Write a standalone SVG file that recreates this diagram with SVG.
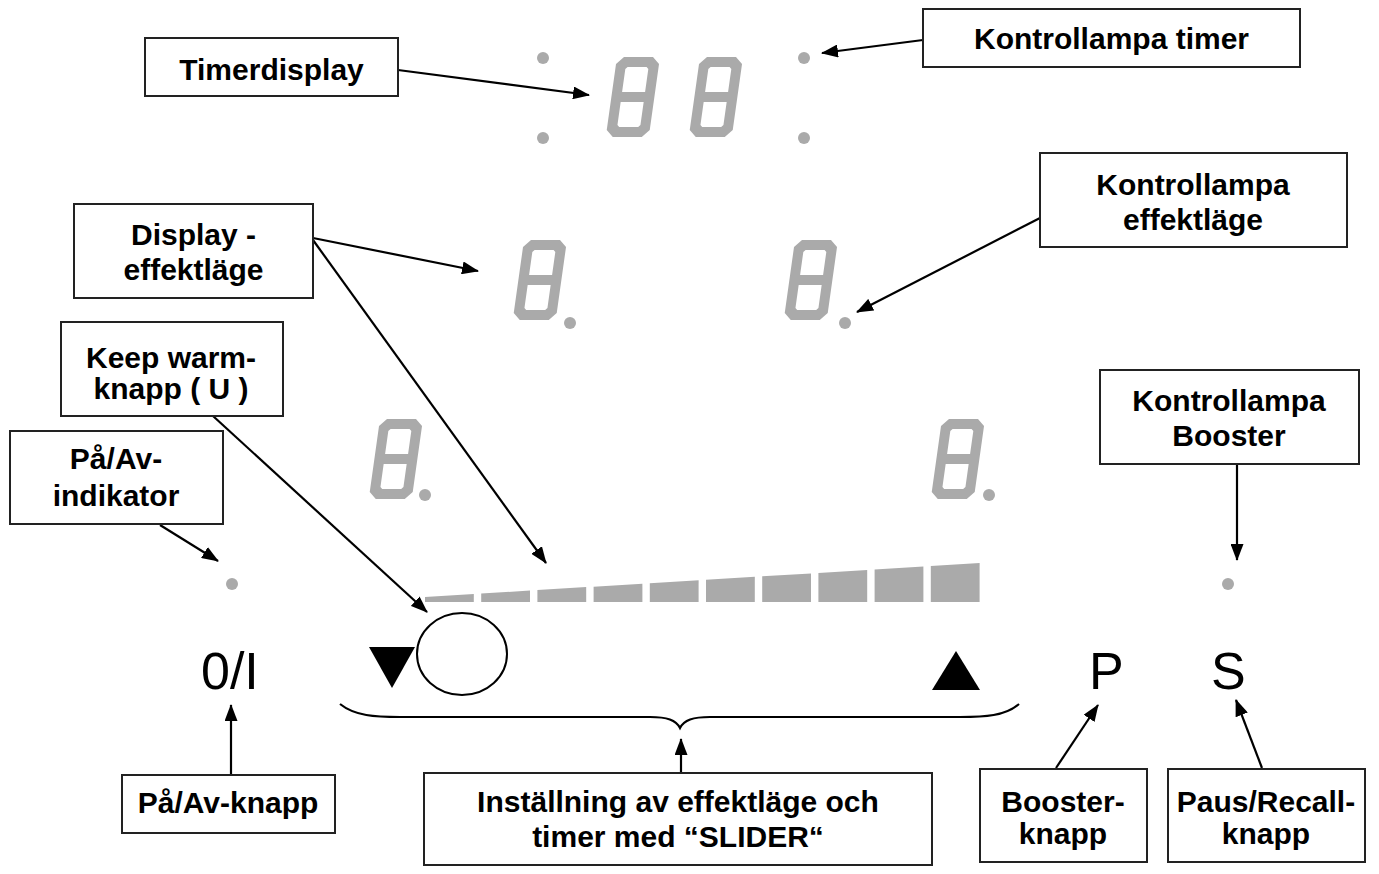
<svg xmlns="http://www.w3.org/2000/svg" xmlns:xlink="http://www.w3.org/1999/xlink" width="1379" height="874" viewBox="0 0 1379 874">
<style>
.box{fill:#fff;stroke:#222;stroke-width:2}
.lbl{font-family:"Liberation Sans",Arial,Helvetica,sans-serif;font-weight:bold;font-size:30px;fill:#000;text-anchor:middle}
.sym{font-family:"Liberation Sans",Arial,Helvetica,sans-serif;font-size:52px;fill:#000}
.seg{fill:#aaaaaa;fill-rule:evenodd}
.dot{fill:#aaaaaa}
.bar{fill:#aaaaaa}
.con{fill:none;stroke:#000;stroke-width:2.2}
</style>
<defs>
<marker id="ah" viewBox="0 0 17 13" refX="16" refY="6.5" markerWidth="17" markerHeight="13" orient="auto" markerUnits="userSpaceOnUse">
<path d="M0,0 L17,6.5 L0,13 Z" fill="#000"/>
</marker>
<path id="d8" d="M7,0 H36 L43,7 V73 L36,80 H7 L0,73 V7 Z M10,12 V35 H33 V12 L31,10 H12 Z M10,45 V68 L12,70 H31 L33,68 V45 Z"/>
</defs>
<rect width="1379" height="874" fill="#fff"/>

<g id="timer-display">
<use xlink:href="#d8" class="seg" transform="translate(617,57) skewX(-8)"/>
<use xlink:href="#d8" class="seg" transform="translate(700,57) skewX(-8)"/>
<circle class="dot" cx="543" cy="58" r="6"/>
<circle class="dot" cx="543" cy="138" r="6"/>
<circle class="dot" cx="804" cy="58" r="6"/>
<circle class="dot" cx="804" cy="138" r="6"/>
</g>

<g id="zone-displays">
<use xlink:href="#d8" class="seg" transform="translate(524,240) skewX(-8)"/>
<circle class="dot" cx="570" cy="323" r="6"/>
<use xlink:href="#d8" class="seg" transform="translate(795,240) skewX(-8)"/>
<circle class="dot" cx="845" cy="323" r="6"/>
<use xlink:href="#d8" class="seg" transform="translate(380,419) skewX(-8)"/>
<circle class="dot" cx="425" cy="495" r="6"/>
<use xlink:href="#d8" class="seg" transform="translate(942,419) skewX(-8)"/>
<circle class="dot" cx="989" cy="495" r="6"/>
</g>

<g id="indicator-dots">
<circle class="dot" cx="232" cy="584" r="6"/>
<circle class="dot" cx="1228" cy="584" r="6"/>
</g>

<g id="slider">
<polygon class="bar" points="425,602 473.8,602 473.8,594 425,597"/>
<polygon class="bar" points="481.2,602 530,602 530,590.6 481.2,593.6"/>
<polygon class="bar" points="537.4,602 586.2,602 586.2,587.1 537.4,590.1"/>
<polygon class="bar" points="593.6,602 642.4,602 642.4,583.7 593.6,586.7"/>
<polygon class="bar" points="649.8,602 698.6,602 698.6,580.2 649.8,583.2"/>
<polygon class="bar" points="706,602 754.8,602 754.8,576.8 706,579.8"/>
<polygon class="bar" points="762.2,602 811,602 811,573.4 762.2,576.3"/>
<polygon class="bar" points="818.4,602 867.2,602 867.2,569.9 818.4,572.9"/>
<polygon class="bar" points="874.6,602 923.4,602 923.4,566.5 874.6,569.5"/>
<polygon class="bar" points="930.8,602 979.6,602 979.6,563 930.8,566"/>
<polygon points="369,647 415,647 392,688" fill="#000"/>
<ellipse cx="462" cy="654" rx="45" ry="41" fill="#fff" stroke="#000" stroke-width="2"/>
<polygon points="932,690 980,690 956,651" fill="#000"/>
</g>

<g id="buttons">
<text class="sym" x="201" y="689">0/I</text>
<text class="sym" x="1089" y="689">P</text>
<text class="sym" x="1211" y="689">S</text>
</g>

<g id="connectors">
<path class="con" d="M340,704 C355,716 375,717 400,717 L650,717 C667,717 676,720 680,728 C684,720 693,717 710,717 L960,717 C985,717 1005,716 1019,704"/>
<line class="con" x1="398" y1="70" x2="589" y2="95" marker-end="url(#ah)"/>
<line class="con" x1="923" y1="40" x2="822" y2="53" marker-end="url(#ah)"/>
<line class="con" x1="313" y1="238" x2="478" y2="271" marker-end="url(#ah)"/>
<line class="con" x1="313" y1="240" x2="546" y2="563" marker-end="url(#ah)"/>
<line class="con" x1="1040" y1="218" x2="857" y2="312" marker-end="url(#ah)"/>
<line class="con" x1="213" y1="416" x2="427" y2="612" marker-end="url(#ah)"/>
<line class="con" x1="160" y1="525" x2="218" y2="561" marker-end="url(#ah)"/>
<line class="con" x1="1237" y1="465" x2="1237" y2="560" marker-end="url(#ah)"/>
<line class="con" x1="231" y1="775" x2="231" y2="705" marker-end="url(#ah)"/>
<line class="con" x1="681" y1="773" x2="681" y2="739" marker-end="url(#ah)"/>
<line class="con" x1="1056" y1="768" x2="1098" y2="705" marker-end="url(#ah)"/>
<line class="con" x1="1262" y1="768" x2="1236" y2="700" marker-end="url(#ah)"/>
</g>

<g id="n-timerdisplay">
<rect class="box" x="145" y="38" width="253" height="58"/>
<text class="lbl" x="271.5" y="80">Timerdisplay</text>
</g>
<g id="n-kontrollampa-timer">
<rect class="box" x="923" y="9" width="377" height="58"/>
<text class="lbl" x="1111.5" y="49">Kontrollampa timer</text>
</g>
<g id="n-display-effektlage">
<rect class="box" x="74" y="204" width="239" height="94"/>
<text class="lbl" x="193.5" y="245">Display -</text>
<text class="lbl" x="193.5" y="280">effektläge</text>
</g>
<g id="n-kontrollampa-effektlage">
<rect class="box" x="1040" y="153" width="307" height="94"/>
<text class="lbl" x="1193" y="195">Kontrollampa</text>
<text class="lbl" x="1193" y="230">effektläge</text>
</g>
<g id="n-keep-warm">
<rect class="box" x="61" y="322" width="222" height="94"/>
<text class="lbl" x="171" y="368">Keep warm-</text>
<text class="lbl" x="171" y="399">knapp ( U )</text>
</g>
<g id="n-pa-av-indikator">
<rect class="box" x="10" y="431" width="213" height="93"/>
<text class="lbl" x="116" y="469">På/Av-</text>
<text class="lbl" x="116" y="506">indikator</text>
</g>
<g id="n-kontrollampa-booster">
<rect class="box" x="1100" y="370" width="259" height="94"/>
<text class="lbl" x="1229" y="411">Kontrollampa</text>
<text class="lbl" x="1229" y="446">Booster</text>
</g>
<g id="n-pa-av-knapp">
<rect class="box" x="122" y="775" width="213" height="58"/>
<text class="lbl" x="228" y="813">På/Av-knapp</text>
</g>
<g id="n-installning">
<rect class="box" x="424" y="773" width="508" height="92"/>
<text class="lbl" x="678" y="812">Inställning av effektläge och</text>
<text class="lbl" x="678" y="847">timer med “SLIDER“</text>
</g>
<g id="n-booster-knapp">
<rect class="box" x="980" y="769" width="167" height="93"/>
<text class="lbl" x="1063" y="812">Booster-</text>
<text class="lbl" x="1063" y="844">knapp</text>
</g>
<g id="n-paus-recall">
<rect class="box" x="1168" y="769" width="197" height="93"/>
<text class="lbl" x="1266" y="812">Paus/Recall-</text>
<text class="lbl" x="1266" y="844">knapp</text>
</g>
</svg>
